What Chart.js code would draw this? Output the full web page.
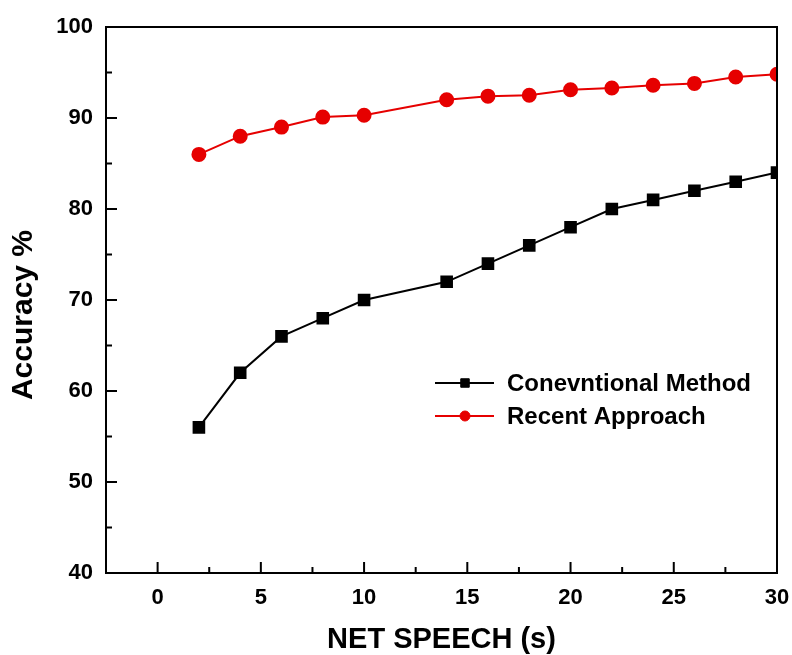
<!DOCTYPE html>
<html>
<head>
<meta charset="utf-8">
<script src="https://cdn.jsdelivr.net/npm/chart.js@4/dist/chart.umd.min.js"></script>
<style>
  html, body { margin: 0; padding: 0; background: #fff; overflow: hidden; }
  #wrap { width: 792px; height: 655px; position: relative; }
</style>
</head>
<body>
<div id="wrap"><canvas id="accChart"></canvas></div>
<script>
// data
const netSpeech = [2, 4, 6, 8, 10, 14, 16, 18, 20, 22, 24, 26, 28, 30];
const conventional = [56, 62, 66, 68, 70, 72, 74, 76, 78, 80, 81, 82, 83, 84];
const recent = [86, 88, 89, 90.1, 90.3, 92, 92.4, 92.5, 93.1, 93.3, 93.6, 93.8, 94.5, 94.8];
const xTicks = [0, 5, 10, 15, 20, 25, 30];
const yTicks = [40, 50, 60, 70, 80, 90, 100];
const xMinor = [2.5, 7.5, 12.5, 17.5, 22.5, 27.5];
const yMinor = [45, 55, 65, 75, 85, 95];

const FONT = '"Liberation Sans", Arial, sans-serif';
const RED = "#e60000";

const toPoints = ys => netSpeech.map((x, i) => ({ x: x, y: ys[i] }));

// box frame, inward ticks, y title and the legend inside the plot
const decor = {
  id: "decor",
  afterDraw(chart) {
    const c = chart.ctx;
    const a = chart.chartArea;
    const xs = chart.scales.x, ys = chart.scales.y;
    c.save();
    c.strokeStyle = "#000";
    c.lineWidth = 2;
    c.beginPath();
    xTicks.forEach(v => { const p = xs.getPixelForValue(v); c.moveTo(p, a.bottom); c.lineTo(p, a.bottom - 11); });
    xMinor.forEach(v => { const p = xs.getPixelForValue(v); c.moveTo(p, a.bottom); c.lineTo(p, a.bottom - 6); });
    yTicks.forEach(v => { const p = ys.getPixelForValue(v); c.moveTo(a.left, p); c.lineTo(a.left + 11, p); });
    yMinor.forEach(v => { const p = ys.getPixelForValue(v); c.moveTo(a.left, p); c.lineTo(a.left + 6, p); });
    c.stroke();
    c.strokeRect(a.left, a.top, a.right - a.left, a.bottom - a.top);

    // y axis title, sits a bit below the middle like the original
    c.save();
    c.translate(24, 315);
    c.rotate(-Math.PI / 2);
    c.fillStyle = "#000";
    c.font = "bold 30px " + FONT;
    c.textAlign = "center";
    c.textBaseline = "middle";
    c.fillText("Accuracy %", 0, 0);
    c.restore();

    // legend
    let ly = 383;
    chart.data.datasets.forEach(ds => {
      c.strokeStyle = ds.borderColor;
      c.fillStyle = ds.backgroundColor;
      c.lineWidth = 2;
      c.beginPath();
      c.moveTo(435, ly);
      c.lineTo(494, ly);
      c.stroke();
      c.lineWidth = 1;
      Chart.helpers.drawPoint(c, {
        pointStyle: ds.pointStyle, radius: ds.legendRadius, borderWidth: 1
      }, 465, ly);
      c.fillStyle = "#000";
      c.font = "bold 24px " + FONT;
      c.textBaseline = "middle";
      c.textAlign = "left";
      c.fillText(ds.label, 507, ly + 1);
      ly += 33;
    });
    c.restore();
  }
};

const ctx = document.getElementById("accChart").getContext("2d");

new Chart(ctx, {
  type: "line",
  data: {
    datasets: [
      {
        label: "Conevntional Method",
        data: toPoints(conventional),
        borderColor: "#000",
        backgroundColor: "#000",
        pointBackgroundColor: "#000",
        pointBorderColor: "#000",
        pointStyle: "rect",
        pointRadius: 7.5,
        legendRadius: 6,
        borderWidth: 2,
        tension: 0,
        clip: 0
      },
      {
        label: "Recent Approach",
        data: toPoints(recent),
        borderColor: RED,
        backgroundColor: RED,
        pointBackgroundColor: RED,
        pointBorderColor: RED,
        pointStyle: "circle",
        pointRadius: 6.5,
        legendRadius: 5,
        borderWidth: 2,
        tension: 0,
        clip: 0
      }
    ]
  },
  options: {
    responsive: true,
    maintainAspectRatio: false,
    animation: false,
    layout: { padding: { top: 27, right: 15, left: 0, bottom: 0 } },
    plugins: {
      legend: { display: false },
      tooltip: { enabled: false }
    },
    scales: {
      x: {
        type: "linear",
        min: -2.5,
        max: 30,
        afterBuildTicks: s => { s.ticks = xTicks.map(v => ({ value: v })); },
        afterFit: s => { s.height = 82; s.paddingLeft = 0; s.paddingRight = 0; },
        grid: { display: false, drawTicks: false },
        border: { display: false },
        ticks: {
          color: "#000",
          padding: 12,
          maxRotation: 0,
          font: { family: FONT, size: 22, weight: "bold" }
        },
        title: {
          display: true,
          text: "NET SPEECH (s)",
          color: "#000",
          padding: { top: 0, bottom: 1 },
          font: { family: FONT, size: 29, weight: "bold", lineHeight: 1 }
        }
      },
      y: {
        min: 40,
        max: 100,
        afterBuildTicks: s => { s.ticks = yTicks.map(v => ({ value: v })); },
        afterFit: s => { s.width = 106; s.paddingTop = 0; s.paddingBottom = 0; },
        grid: { display: false, drawTicks: false },
        border: { display: false },
        ticks: {
          color: "#000",
          padding: 13,
          font: { family: FONT, size: 22, weight: "bold" }
        }
      }
    }
  },
  plugins: [decor]
});
</script>
</body>
</html>
